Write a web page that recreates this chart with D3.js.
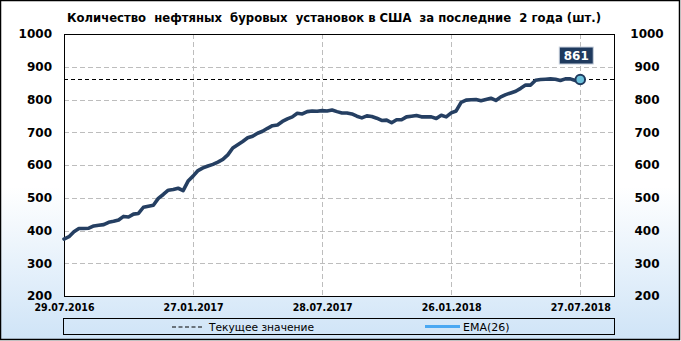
<!DOCTYPE html>
<html><head><meta charset="utf-8">
<script src="https://cdn.jsdelivr.net/npm/d3@7"></script>
<style>
html,body{margin:0;padding:0;background:#fff;}
svg{display:block;}
text{font-family:"DejaVu Sans",Tahoma,sans-serif;}
</style></head>
<body>
<script>
const title = "Количество  нефтяных  буровых  установок в США  за последние  2 года (шт.)";
const startDate = "29.07.2016";
const rigs = [374,381,396,406,406,407,414,416,418,425,428,432,443,441,450,452,471,474,477,498,510,523,525,529,522,551,
566,583,591,597,602,609,617,631,652,662,672,683,688,697,703,712,720,722,733,741,747,758,756,763,765,764,
766,765,768,763,759,759,756,749,744,750,748,743,736,737,729,738,738,747,749,751,747,747,747,742,752,747,
759,765,791,798,799,800,796,800,804,797,808,815,820,825,834,844,844,859,861,862,863,862,858,863,863,858,861];
const currentValue = 861;
const xTickLabels = ["29.07.2016","27.01.2017","28.07.2017","26.01.2018","27.07.2018"];
const yTicks = [200,300,400,500,600,700,800,900,1000];
const legendLabels = ["Текущее значение","EMA(26)"];

const W=681,H=341;
const parse = d3.utcParse("%d.%m.%Y");
const t0 = parse(startDate);
const dates = rigs.map((v,i)=>d3.utcDay.offset(t0, 7*i));
const data = rigs.map((v,i)=>({d:dates[i], v}));
const xTicks = xTickLabels.map(parse);

const svg = d3.select("body").append("svg").attr("width",W).attr("height",H);
const defs = svg.append("defs");
const g = defs.append("linearGradient").attr("id","bg").attr("x1",0).attr("y1",0).attr("x2",0).attr("y2",1);
g.append("stop").attr("offset","0").attr("stop-color","#ffffff");
g.append("stop").attr("offset","0.55").attr("stop-color","#ffffff");
g.append("stop").attr("offset","1").attr("stop-color","#cfe4f7");

svg.append("rect").attr("x",0.5).attr("y",0.5).attr("width",W-2).attr("height",H-2)
  .attr("fill","url(#bg)").attr("stroke","#000").attr("stroke-width",1.5);

const L=64,R=615,T=34,B=296;
const x = d3.scaleUtc().domain([t0, d3.utcDay.offset(t0, 7*111)]).range([L,R]);
const y = d3.scaleLinear().domain([200,1000]).range([B,T]);

svg.append("text").attr("x",(67+601)/2).attr("y",22).attr("text-anchor","middle")
  .attr("font-weight","bold").attr("font-size",11.5).style("white-space","pre")
  .attr("textLength",534).attr("lengthAdjust","spacingAndGlyphs").text(title);

svg.append("rect").attr("x",L).attr("y",T).attr("width",R-L).attr("height",B-T).attr("fill","#fff");

// grid
svg.append("g").selectAll("line").data(yTicks.filter(d=>d>200&&d<1000)).join("line")
  .attr("x1",L).attr("x2",R).attr("y1",d=>Math.round(y(d))+0.5).attr("y2",d=>Math.round(y(d))+0.5)
  .attr("stroke","#bdbdbd").attr("stroke-dasharray","5,3");
svg.append("g").selectAll("line").data(xTicks.slice(1)).join("line")
  .attr("y1",T).attr("y2",B).attr("x1",d=>Math.round(x(d))+0.5).attr("x2",d=>Math.round(x(d))+0.5)
  .attr("stroke","#bdbdbd").attr("stroke-dasharray","5,3");

// axes
const fmt = d3.format("d");
const yl = d3.axisLeft(y).tickValues(yTicks).tickFormat(fmt).tickSize(0).tickPadding(12);
const yla = svg.append("g").attr("transform",`translate(${L},0)`).call(yl);
const yr = d3.axisRight(y).tickValues(yTicks).tickFormat(fmt).tickSize(0).tickPadding(0);
const yra = svg.append("g").attr("transform",`translate(647,0)`).call(yr);
yra.selectAll("text").attr("text-anchor","middle");
const xa = d3.axisBottom(x).tickValues(xTicks).tickSize(0).tickPadding(8)
  .tickFormat((d,i)=>xTickLabels[i]);
const xaa = svg.append("g").attr("transform",`translate(0,${B})`).call(xa);
[yla,yra,xaa].forEach(a=>{a.select(".domain").remove();
  a.selectAll("text").attr("font-family","'DejaVu Sans',sans-serif").attr("font-weight","bold").attr("fill","#000");});
yla.selectAll("text").attr("font-size",12);
yra.selectAll("text").attr("font-size",12);
xaa.selectAll("text").attr("font-size",10.5).attr("textLength",60).attr("lengthAdjust","spacingAndGlyphs");

svg.append("rect").attr("x",L+0.5).attr("y",T+0.5).attr("width",R-L-1).attr("height",B-T)
  .attr("fill","none").attr("stroke","#000").attr("stroke-width",1);

// current value dashed
svg.append("line").attr("x1",L).attr("x2",R).attr("y1",y(currentValue)).attr("y2",y(currentValue))
  .attr("stroke","#000").attr("stroke-width",1.2).attr("stroke-dasharray","4,3");

// line
svg.append("path").datum(data).attr("fill","none").attr("stroke","#253f62").attr("stroke-width",3.6)
  .attr("stroke-linejoin","round").attr("stroke-linecap","round")
  .attr("d",d3.line().x(d=>x(d.d)).y(d=>y(d.v)));

const last = data[data.length-1];
svg.append("circle").attr("cx",x(last.d)).attr("cy",y(last.v)).attr("r",4.8)
  .attr("fill","#6cc1dc").attr("stroke","#1f3a5e").attr("stroke-width",2);

// value label
const lx = x(last.d)-4, ly = y(last.v)-24;
svg.append("rect").attr("x",lx-17).attr("y",ly-8.5).attr("width",34).attr("height",17)
  .attr("fill","#1f3a5e").attr("stroke","#c9d2de").attr("stroke-width",1);
svg.append("text").attr("x",lx).attr("y",ly+4.5).attr("text-anchor","middle").attr("fill","#fff")
  .attr("font-weight","bold").attr("font-size",12).text(currentValue);

// legend
svg.append("rect").attr("x",63.5).attr("y",318.5).attr("width",551).attr("height",16)
  .attr("fill","none").attr("stroke","#000").attr("stroke-width",1);
svg.append("line").attr("x1",172).attr("x2",202).attr("y1",327).attr("y2",327)
  .attr("stroke","#000").attr("stroke-width",1).attr("stroke-dasharray","4,2.5");
svg.append("text").attr("x",209).attr("y",330.5).attr("font-size",11).attr("fill","#000")
  .attr("textLength",105).attr("lengthAdjust","spacingAndGlyphs").text(legendLabels[0]);
svg.append("line").attr("x1",425).attr("x2",460).attr("y1",326.5).attr("y2",326.5)
  .attr("stroke","#4aa8f2").attr("stroke-width",3);
svg.append("text").attr("x",463).attr("y",330.5).attr("font-size",11).attr("fill","#000").text(legendLabels[1]);
</script>
</body></html>
